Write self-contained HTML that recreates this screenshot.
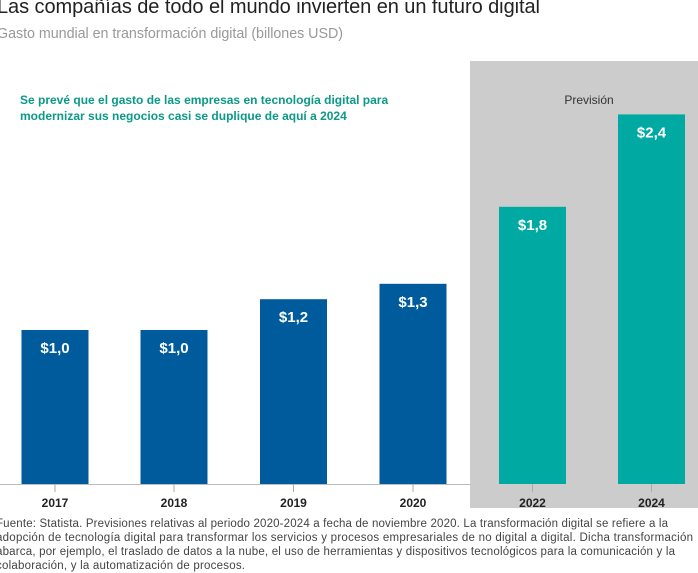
<!DOCTYPE html>
<html><head><meta charset="utf-8"><style>
body{margin:0;width:698px;height:573px;overflow:hidden;background:#fff;font-family:"Liberation Sans",sans-serif;}
</style></head><body>
<svg width="698" height="573" style="position:absolute;left:0;top:0" id="svg">
<text x="-3" y="13" font-size="20" fill="#222" textLength="543">Las compañías de todo el mundo invierten en un futuro digital</text>
<text x="-3" y="38" font-size="14.3" fill="#999" textLength="346">Gasto mundial en transformación digital (billones USD)</text>
<rect x="470" y="61" width="228" height="447" fill="#cccccc"/>
<text x="589" y="104" font-size="12" fill="#333" text-anchor="middle">Previsión</text>
<text x="20" y="104" font-size="12" font-weight="bold" fill="#0a9a86">Se prevé que el gasto de las empresas en tecnología digital para</text>
<text x="20" y="120" font-size="12" font-weight="bold" fill="#0a9a86">modernizar sus negocios casi se duplique de aquí a 2024</text>
<line x1="0" y1="484.5" x2="470" y2="484.5" stroke="#bbb"/>
<g id="bars"></g>
<g font-size="11.5" fill="#444">
<text x="-4" y="527" textLength="672">Fuente: Statista. Previsiones relativas al periodo 2020-2024 a fecha de noviembre 2020. La transformación digital se refiere a la</text>
<text x="-4" y="541" textLength="697">adopción de tecnología digital para transformar los servicios y procesos empresariales de no digital a digital. Dicha transformación</text>
<text x="-4" y="555" textLength="679">abarca, por ejemplo, el traslado de datos a la nube, el uso de herramientas y dispositivos tecnológicos para la comunicación y la</text>
<text x="-4" y="569" textLength="249">colaboración, y la automatización de procesos.</text>
</g>
</svg>
<script>
const categories=["2017","2018","2019","2020","2022","2024"];
const values=[1.0,1.0,1.2,1.3,1.8,2.4];
const valueLabels=["$1,0","$1,0","$1,2","$1,3","$1,8","$2,4"];
const forecast=[false,false,false,false,true,true];
const ns="http://www.w3.org/2000/svg";
const g=document.getElementById("bars");
const base=484, pxPerUnit=154;
const centers=[55,174,293.5,413,532.5,651.5];
const bw=67;
function y(v){return base-v*pxPerUnit;}
categories.forEach((c,i)=>{
  const cx=centers[i];
  const r=document.createElementNS(ns,"rect");
  r.setAttribute("x",cx-bw/2);r.setAttribute("y",y(values[i]));
  r.setAttribute("width",bw);r.setAttribute("height",base-y(values[i]));
  r.setAttribute("fill",forecast[i]?"#00aaa2":"#005b9d");
  
  
  g.appendChild(r);
  const t=document.createElementNS(ns,"text");
  t.setAttribute("x",cx);t.setAttribute("y",y(values[i])+23);
  t.setAttribute("text-anchor","middle");t.setAttribute("fill","#fff");
  t.setAttribute("font-size","15");t.setAttribute("font-weight","bold");
  t.textContent=valueLabels[i];
  
  
  g.appendChild(t);
  const tk=document.createElementNS(ns,"line");
  tk.setAttribute("x1",cx);tk.setAttribute("x2",cx);tk.setAttribute("y1",base);tk.setAttribute("y2",base+8);
  tk.setAttribute("stroke","#aaa");
  
  
  g.appendChild(tk);
  const l=document.createElementNS(ns,"text");
  l.setAttribute("x",cx);l.setAttribute("y",507);l.setAttribute("text-anchor","middle");
  l.setAttribute("font-size","12");l.setAttribute("font-weight","bold");l.setAttribute("fill","#222");
  l.textContent=c;
  
  
  g.appendChild(l);
});
</script>
</body></html>
